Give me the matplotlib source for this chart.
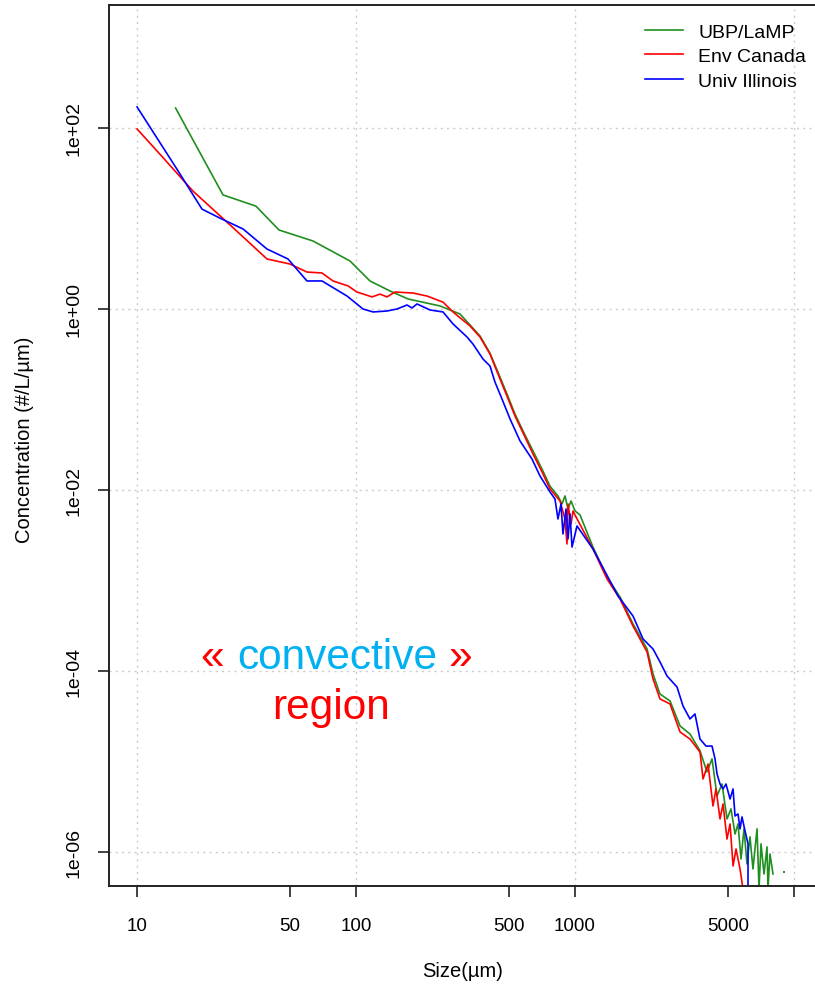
import numpy as np
import matplotlib
matplotlib.use("Agg")
import matplotlib.pyplot as plt

plt.rcParams['font.family'] = ['Liberation Sans', 'DejaVu Sans']

# values (size in µm, concentration in #/L/µm)
ubp_size = [15, 24.7, 34.9, 44.5, 63.6, 93.9, 115.8, 143, 172.8, 241.9,
            298.5, 368.4, 409, 445, 489, 532, 591, 643, 707, 769,
            836, 872, 900, 929, 959, 1000, 1054, 1208, 1400, 1605,
            1840, 2133, 2271, 2443, 2716, 3017, 3350, 3722, 4006, 4223,
            4451, 4691, 4944, 5157, 5379, 5551, 5728, 5911, 6100, 6295,
            6496, 6778, 6922, 7069, 7295, 7529, 7606, 7770, 8018]
ubp_conc = [166, 18.2, 13.7, 7.46, 5.64, 3.39, 2.04, 1.58, 1.29, 1.08,
            0.88, 0.503, 0.325, 0.2, 0.115, 0.069, 0.0405, 0.027, 0.017, 0.011,
            0.00859, 0.007, 0.00859, 0.00617, 0.00756, 0.00586, 0.0053, 0.00234, 0.00109, 6.57e-4,
            3.31e-4, 1.75e-4, 9.27e-5, 5.57e-5, 4.66e-5, 2.47e-5, 2.01e-5, 1.31e-5, 7.66e-6, 1.07e-5,
            4.16e-6, 5.64e-6, 2.32e-6, 2.99e-6, 1.58e-6, 2.04e-6, 8.37e-7, 1.80e-6, 7.37e-7, 1.47e-6,
            6.49e-7, 1.80e-6, 3.9e-7, 1.23e-6, 5.71e-7, 1.14e-6, 3.9e-7, 9.5e-7, 5.71e-7]
ubp_dot_size = [9000]
ubp_dot_conc = [6.0e-7]

env_size = [10, 12.7, 18.0, 29.5, 39.2, 49.9, 59.7, 69.9, 78.5, 91.9,
            101, 118.3, 128.7, 138.5, 150.7, 182.1, 211, 249.6, 277.4, 331.6,
            368.4, 409, 445, 489, 532, 591, 643, 707, 769, 854,
            900, 919, 929, 959, 979, 1011, 1208, 1400, 1605, 1840,
            2133, 2271, 2443, 2716, 3017, 3350, 3722, 3842, 4049, 4267,
            4404, 4593, 4741, 4944, 5104, 5268, 5437, 5669, 5849]
env_conc = [97.5, 51.6, 20.1, 6.74, 3.57, 3.14, 2.56, 2.50, 2.04, 1.80,
            1.54, 1.36, 1.46, 1.36, 1.54, 1.50, 1.39, 1.19, 0.927, 0.649,
            0.490, 0.318, 0.191, 0.109, 0.0657, 0.0385, 0.0250, 0.0158, 0.01026, 0.00756,
            0.00478, 0.00253, 0.0070, 0.00421, 0.00586, 0.00503, 0.00223, 0.00104, 6.25e-4, 3.14e-4,
            1.62e-4, 8.16e-5, 4.91e-5, 4.32e-5, 2.12e-5, 1.77e-5, 1.27e-5, 6.41e-6, 9.38e-6, 3.22e-6,
            4.97e-6, 2.32e-6, 3.39e-6, 1.39e-6, 2.04e-6, 7.0e-7, 1.08e-6, 6.49e-7, 3.9e-7]

uiuc_size = [10, 15.2, 19.8, 23.9, 30.5, 39.2, 48.9, 59.7, 69.9, 91,
             107.6, 119.6, 138.5, 153.9, 171, 180.2, 189.9, 217.7, 249.6, 277.4,
             321.3, 342, 380, 409, 431, 464, 505, 561, 636, 692,
             769, 810, 836, 863, 881, 910, 929, 949, 969, 1021,
             1208, 1572, 1840, 2044, 2271, 2443, 2631, 2923, 3113, 3350,
             3530, 3722, 3964, 4223, 4358, 4451, 4593, 4741, 4891, 5104,
             5268, 5379, 5551, 5669, 5789, 5974, 6166, 6166]
uiuc_conc = [171, 35.2, 12.7, 10.1, 7.65, 4.6, 3.57, 2.04, 2.04, 1.39,
             1.0, 0.927, 0.95, 1.0, 1.107, 1.026, 1.136, 0.975, 0.927, 0.683,
             0.49, 0.41, 0.28, 0.2345, 0.156, 0.1013, 0.0609, 0.0348, 0.022, 0.01428,
             0.0095, 0.00796, 0.00478, 0.007, 0.00327, 0.00617, 0.00288, 0.00543, 0.00234, 0.004,
             0.00223, 6.74e-4, 4.05e-4, 2.26e-4, 1.75e-4, 1.26e-4, 8.81e-5, 6.65e-5, 4.1e-5, 2.95e-5,
             3.35e-5, 1.77e-5, 1.48e-5, 1.48e-5, 1.07e-5, 7.28e-6, 5.64e-6, 4.97e-6, 5.64e-6, 3.85e-6,
             4.97e-6, 2.5e-6, 2.63e-6, 1.8e-6, 2.44e-6, 1.71e-6, 1.23e-6, 3.9e-7]

series_labels = ["UBP/LaMP", "Env Canada", "Univ Illinois"]
x_ticks = [10, 50, 100, 500, 1000, 5000, 10000]
x_ticklabels = ["10", "50", "100", "500", "1000", "5000", ""]
y_ticks = [1e2, 1e0, 1e-2, 1e-4, 1e-6]
y_ticklabels = ["1e+02", "1e+00", "1e-02", "1e-04", "1e-06"]

W, H = 815, 987
fig = plt.figure(figsize=(W / 100, H / 100), dpi=100)
ax = fig.add_axes([109 / W, 100 / H, (823 - 109) / W, 881 / H])

green, red, blue = "#1f8f1f", "#ff0000", "#0000ff"
ax.plot(ubp_size, ubp_conc, color=green, lw=1.2, label=series_labels[0])
ax.plot(env_size, env_conc, color=red, lw=1.2, label=series_labels[1])
ax.plot(uiuc_size, uiuc_conc, color=blue, lw=1.2, label=series_labels[2])
ax.plot(ubp_dot_size, ubp_dot_conc, ls="none", marker="s", ms=2, color=green, mew=0)

ax.set_xscale("log")
ax.set_yscale("log")
ax.set_xlim(10 ** 0.872, 10 ** 4.1324)
ax.set_ylim(10 ** -6.376, 10 ** 3.359)

ax.xaxis.set_major_locator(matplotlib.ticker.FixedLocator(x_ticks))
ax.xaxis.set_minor_locator(matplotlib.ticker.NullLocator())
ax.set_xticklabels(x_ticklabels)
ax.yaxis.set_major_locator(matplotlib.ticker.FixedLocator(y_ticks))
ax.yaxis.set_minor_locator(matplotlib.ticker.NullLocator())
ax.set_yticklabels(y_ticklabels, rotation=90, va="center")

ax.tick_params(axis="both", direction="out", length=8, width=1.2, colors="#222222",
               labelcolor="black")
ax.tick_params(axis="x", pad=14, labelsize=13.5)
ax.tick_params(axis="y", pad=11, labelsize=14)

for s in ["left", "bottom", "top"]:
    ax.spines[s].set_color("#222222")
    ax.spines[s].set_linewidth(1.4)
ax.spines["right"].set_visible(False)

# dotted grid only at the decades
for xv in [10, 100, 1000, 10000]:
    ax.axvline(xv, color="#cccccc", lw=1, ls=(0, (1.5, 3)), zorder=0)
for yv in y_ticks:
    ax.axhline(yv, color="#cccccc", lw=1, ls=(0, (1.5, 3)), zorder=0)

fig.text(25 / W, 1 - 440 / H, "Concentration (#/L/µm)", rotation=90,
         ha="center", va="center", fontsize=14.5)
fig.text(463 / W, 1 - 972 / H, "Size(µm)", ha="center", va="center", fontsize=14.5)

ax.legend(loc="upper left", bbox_to_anchor=(645 / W, 1 - 24 / H),
          bbox_transform=fig.transFigure, frameon=False, fontsize=14,
          borderpad=0, borderaxespad=0, handlelength=1.95, handletextpad=0.8,
          labelspacing=0.36)

fig.text(200 / W, 1 - 658 / H, "«", color=red, fontsize=30.5, ha="left", va="center")
fig.text(337 / W, 1 - 658 / H, "convective", color="#00b0f0", fontsize=30.5,
         ha="center", va="center")
fig.text(472 / W, 1 - 658 / H, "»", color=red, fontsize=30.5, ha="right", va="center")
fig.text(331 / W, 1 - 708 / H, "region", color=red, fontsize=30.5, ha="center", va="center")

fig.savefig("out.png", dpi=100)
